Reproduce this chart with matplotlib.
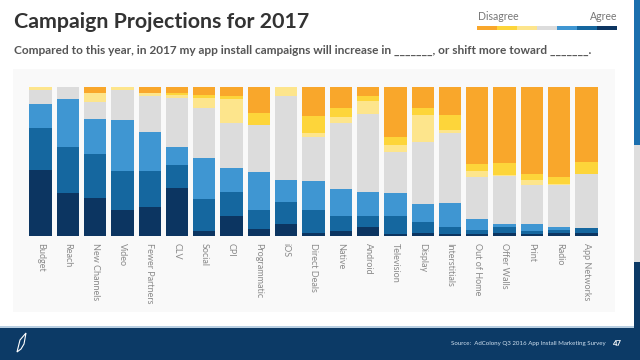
import matplotlib
matplotlib.use("Agg")
import matplotlib.pyplot as plt
from matplotlib.patches import Rectangle, Polygon
import numpy as np

plt.rcParams['font.family'] = ['Lato', 'DejaVu Sans']

categories = ["Budget", "Reach", "New Channels", "Video", "Fewer Partners", "CLV",
              "Social", "CPI", "Programmatic", "iOS", "Direct Deals", "Native",
              "Android", "Television", "Display", "Interstitials", "Out of Home",
              "Offer Walls", "Print", "Radio", "App Networks"]

# percentages, from bottom (Agree) to top (Disagree)
agree_strong = [44.2, 28.6, 25.3, 17.5, 19.7, 31.9, 3.5, 13.4, 5.0, 7.9, 1.9, 3.6,
                5.8, 1.2, 1.7, 1.3, 1.5, 1.9, 1.4, 1.8, 1.8]
agree = [28.6, 30.8, 29.5, 26.3, 24.1, 15.6, 21.4, 16.3, 12.3, 15.0, 15.6, 10.0,
         7.6, 12.1, 7.8, 4.5, 2.2, 4.0, 2.2, 2.2, 3.8]
agree_slight = [15.6, 32.8, 23.4, 33.9, 26.1, 12.3, 27.5, 16.1, 25.7, 15.0, 19.6, 18.1,
                16.3, 15.6, 12.3, 16.1, 8.0, 2.2, 4.2, 1.8, 0.0]
neutral = [9.8, 7.8, 11.8, 20.5, 24.3, 33.0, 33.7, 30.1, 31.3, 55.8, 29.5, 44.2,
           52.5, 27.5, 41.3, 47.3, 28.1, 32.1, 26.1, 28.1, 35.9]
disagree_slight = [1.8, 0.0, 6.0, 1.8, 1.8, 1.6, 6.7, 16.3, 0.0, 6.3, 2.2, 4.0,
                   8.5, 4.5, 18.3, 1.8, 4.0, 0.7, 3.6, 1.3, 0.0]
disagree = [0.0, 0.0, 0.0, 0.0, 0.0, 1.6, 1.6, 1.8, 8.3, 0.0, 11.6, 6.0,
            3.3, 5.6, 4.5, 10.5, 4.2, 7.8, 4.0, 4.5, 8.3]
disagree_strong = [0.0, 0.0, 4.0, 0.0, 4.0, 4.0, 5.6, 6.0, 17.4, 0.0, 19.6, 14.1,
                   6.0, 33.5, 14.1, 18.5, 52.0, 51.3, 58.5, 60.3, 50.2]

series = [agree_strong, agree, agree_slight, neutral, disagree_slight, disagree, disagree_strong]
colors = ["#0c3561", "#15679f", "#3f96d2", "#dcdcdc", "#fde58c", "#fdd53a", "#f9a72b"]

W, H = 640, 360
fig = plt.figure(figsize=(6.4, 3.6), dpi=100)
fig.patch.set_facecolor("white")

def fx(x):
    return x / W

def fy(y):
    return 1 - y / H

def rect(x0, y0, x1, y1, color, z=-1):
    fig.patches.append(Rectangle((fx(x0), fy(y1)), fx(x1) - fx(x0), fy(y0) - fy(y1),
                                 transform=fig.transFigure, facecolor=color,
                                 edgecolor="none", zorder=z))

# slide decorations
rect(13, 69, 615, 312, "#f9f9f9")
rect(634, 0, 640, 145, "#1b6fae")
rect(634, 145, 640, 262, "#dedede")
rect(634, 262, 640, 360, "#0c3a66")
rect(0, 326, 634, 328, "#b9cfe2")
rect(0, 328, 640, 360, "#0c3a66")

# axes
x_left, x_right = 26.85, 600.15
y_top, y_bot = 87, 236
ax = fig.add_axes([fx(x_left), fy(y_bot), fx(x_right) - fx(x_left), fy(y_top) - fy(y_bot)])
ax.set_zorder(5)
ax.set_facecolor("none")
x = np.arange(len(categories))
bottom = np.zeros(len(categories))
for vals, c in zip(series, colors):
    v = np.array(vals)
    ax.bar(x, v, bottom=bottom, width=0.82, color=c, linewidth=0)
    bottom += v
ax.set_xlim(-0.5, len(categories) - 0.5)
ax.set_ylim(0, 100)
for s in ax.spines.values():
    s.set_visible(False)
ax.set_yticks([])
ax.set_xticks(x)
ax.set_xticklabels(categories, rotation=270, ha="center", va="top",
                   fontsize=6.5, color="#8a8a8a")
ax.tick_params(axis="x", length=0, pad=5)

# title & subtitle
fig.text(fx(14), fy(22), "Campaign Projections for 2017", fontsize=15.4, fontweight="bold",
         color="#333333", ha="left", va="center")
fig.text(fx(14), fy(50),
         "Compared to this year, in 2017 my app install campaigns will increase in _______, or shift more toward _______.",
         fontsize=8.6, fontweight="bold", color="#555555", ha="left", va="center")

# legend
fig.text(fx(478), fy(17), "Disagree", fontsize=7.6, color="#777777", ha="left", va="center")
fig.text(fx(617), fy(17), "Agree", fontsize=7.6, color="#777777", ha="right", va="center")
lx0, lx1 = 477, 617
seg = (lx1 - lx0) / len(colors)
for i, c in enumerate(reversed(colors)):
    rect(lx0 + i * seg, 26, lx0 + (i + 1) * seg, 30, c, z=2)

# footer
fig.text(fx(606), fy(343), "Source:  AdColony Q3 2016 App Install Marketing Survey",
         fontsize=4.4, color="#cfe0f0", ha="right", va="center")
fig.text(fx(613), fy(343), "47", fontsize=5.5, fontweight="bold", color="white",
         ha="left", va="center")
# small logo mark
logo = [(fx(17), fy(352)), (fx(20), fy(340)), (fx(26), fy(333)), (fx(24), fy(344)),
        (fx(21), fy(349))]
fig.patches.append(Polygon(logo, closed=True, transform=fig.transFigure,
                           facecolor="none", edgecolor="white", linewidth=0.8, zorder=3))

fig.savefig("out.png", dpi=100)
